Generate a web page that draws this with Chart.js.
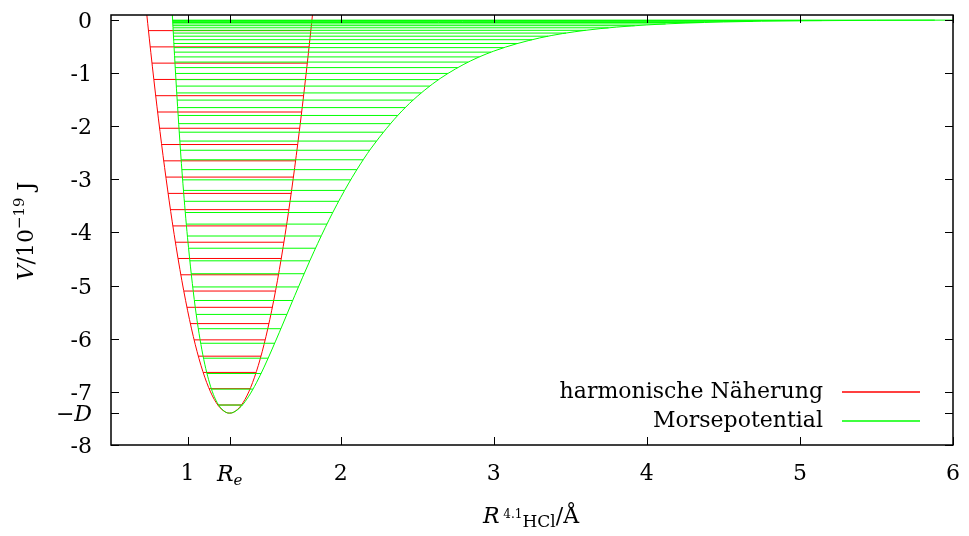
<!DOCTYPE html>
<html>
<head>
<meta charset="utf-8">
<script src="https://cdn.jsdelivr.net/npm/chart.js@4.4.0/dist/chart.umd.min.js"></script>
<style>
  html, body { margin: 0; padding: 0; background: #fff; }
</style>
</head>
<body>
<canvas id="potentielChart" width="969" height="536"></canvas>
<script>
// Potentiel de Morse (HCl) et approximation harmonique, unités : Å et 1e-19 J
const xRe = 1.275;
const yD = -7.4;
const xTicks = [1, 1.275, 2, 3, 4, 5, 6];
const yTicks = [0, -1, -2, -3, -4, -5, -6, -7, -7.4, -8];

// Courbe harmonique
const harmoR = [0.70, 0.74, 0.78, 0.82, 0.86, 0.90, 0.95, 1.00, 1.05, 1.10, 1.15, 1.20, 1.25, 1.275,
  1.30, 1.35, 1.40, 1.45, 1.50, 1.55, 1.60, 1.65, 1.69, 1.73, 1.77, 1.81, 1.85];
const harmoV = [1.067, -0.070, -1.125, -2.098, -2.989, -3.799, -4.695, -5.463, -6.104, -6.616, -7.000, -7.256, -7.384, -7.400,
  -7.384, -7.256, -7.000, -6.616, -6.104, -5.463, -4.695, -3.799, -2.989, -2.098, -1.125, -0.070, 1.067];

// Courbe de Morse
const morseR = [0.88, 0.90, 0.92, 0.95, 0.97, 1.00, 1.05, 1.10, 1.15, 1.20, 1.25, 1.275, 1.30, 1.35, 1.40, 1.45, 1.50,
  1.60, 1.70, 1.80, 1.90, 2.00, 2.10, 2.20, 2.40, 2.60, 2.80, 3.00, 3.30, 3.60, 4.00, 4.50, 5.00, 5.50, 6.00];
const morseV = [1.315, 0.135, -0.921, -2.295, -3.084, -4.098, -5.401, -6.304, -6.893, -7.234, -7.383, -7.400, -7.385, -7.275, -7.081, -6.829, -6.534,
  -5.877, -5.190, -4.524, -3.904, -3.343, -2.845, -2.411, -1.713, -1.205, -0.842, -0.586, -0.338, -0.194, -0.093, -0.037, -0.015, -0.006, -0.002];

// Niveaux d'énergie harmoniques et leurs bornes
const niveauxHarmo = [-7.247, -6.940, -6.634, -6.328, -6.021, -5.715, -5.408, -5.102, -4.796, -4.489, -4.183, -3.876,
  -3.570, -3.264, -2.957, -2.651, -2.344, -2.038, -1.732, -1.425, -1.119, -0.812, -0.506, -0.200];
const harmoGauche = [1.198, 1.141, 1.102, 1.070, 1.043, 1.018, 0.996, 0.976, 0.956, 0.938, 0.921, 0.904,
  0.888, 0.873, 0.859, 0.844, 0.831, 0.817, 0.805, 0.792, 0.780, 0.768, 0.756, 0.745];
const harmoDroite = [1.352, 1.409, 1.448, 1.480, 1.507, 1.532, 1.554, 1.575, 1.594, 1.612, 1.629, 1.646,
  1.662, 1.677, 1.692, 1.706, 1.719, 1.733, 1.746, 1.758, 1.770, 1.782, 1.794, 1.805];

// Niveaux d'énergie de Morse et leurs bornes
const niveauxMorse = [-7.248, -6.948, -6.654, -6.366, -6.085, -5.811, -5.542, -5.280, -5.025, -4.776,
  -4.533, -4.296, -4.066, -3.842, -3.624, -3.413, -3.208, -3.009, -2.817, -2.631,
  -2.452, -2.279, -2.112, -1.951, -1.797, -1.649, -1.508, -1.373, -1.244, -1.122,
  -1.006, -0.896, -0.792, -0.695, -0.605, -0.520, -0.442, -0.371, -0.305, -0.246,
  -0.194, -0.147, -0.107, -0.074, -0.047, -0.026, -0.011, -0.003];
const morseGauche = [1.203, 1.156, 1.127, 1.104, 1.086, 1.070, 1.057, 1.045, 1.034, 1.024,
  1.015, 1.007, 0.999, 0.992, 0.985, 0.979, 0.973, 0.968, 0.963, 0.958,
  0.954, 0.950, 0.946, 0.942, 0.939, 0.935, 0.932, 0.929, 0.927, 0.924,
  0.922, 0.919, 0.917, 0.916, 0.914, 0.912, 0.911, 0.909, 0.908, 0.907,
  0.906, 0.905, 0.904, 0.904, 0.903, 0.903, 0.903, 0.902];
const morseDroite = [1.358, 1.428, 1.480, 1.527, 1.569, 1.610, 1.649, 1.687, 1.724, 1.762,
  1.799, 1.836, 1.873, 1.911, 1.948, 1.987, 2.026, 2.066, 2.106, 2.148,
  2.190, 2.234, 2.278, 2.324, 2.372, 2.422, 2.473, 2.526, 2.582, 2.640,
  2.701, 2.765, 2.833, 2.906, 2.982, 3.065, 3.154, 3.250, 3.355, 3.472,
  3.602, 3.750, 3.921, 4.123, 4.371, 4.693, 5.143, 5.881];

const POLICE = '"DejaVu Serif", serif';
const ROUGE = '#ff0000';
const VERT = '#00ff00';

// Fonction pour transformer deux tableaux en points {x, y}
function points(xs, ys) {
  return xs.map((v, i) => ({ x: v, y: ys[i] }));
}

// Fonction pour créer les segments horizontaux (séparés par un point nul)
function segments(gauche, droite, niveaux) {
  const pts = [];
  niveaux.forEach((e, i) => {
    pts.push({ x: gauche[i], y: e });
    pts.push({ x: droite[i], y: e });
    pts.push({ x: droite[i], y: null });
  });
  return pts;
}

// Fonction pour écrire un texte composé (italique, exposant, indice)
function ecrireMorceaux(ctx, morceaux, x0, y0) {
  let x = x0;
  morceaux.forEach(m => {
    ctx.font = `${m.f} ${POLICE}`;
    ctx.fillText(m.t, x, y0 + (m.dy || 0));
    x += ctx.measureText(m.t).width;
  });
}
function largeurMorceaux(ctx, morceaux) {
  return morceaux.reduce((s, m) => {
    ctx.font = `${m.f} ${POLICE}`;
    return s + ctx.measureText(m.t).width;
  }, 0);
}

const decor = {
  id: 'decor',
  afterDraw(chart) {
    const { ctx, chartArea: a } = chart;
    const sx = chart.scales.x, sy = chart.scales.y;
    ctx.save();

    // cadre
    ctx.strokeStyle = '#000';
    ctx.lineWidth = 1.5;
    ctx.strokeRect(a.left, a.top, a.right - a.left, a.bottom - a.top);

    // graduations vers l'intérieur
    ctx.lineWidth = 1;
    ctx.beginPath();
    sx.ticks.forEach(t => {
      const px = Math.round(sx.getPixelForValue(t.value)) + 0.5;
      ctx.moveTo(px, a.bottom); ctx.lineTo(px, a.bottom - 8);
      ctx.moveTo(px, a.top); ctx.lineTo(px, a.top + 8);
    });
    sy.ticks.forEach(t => {
      const py = Math.round(sy.getPixelForValue(t.value)) + 0.5;
      ctx.moveTo(a.left, py); ctx.lineTo(a.left + 8, py);
      ctx.moveTo(a.right, py); ctx.lineTo(a.right - 8, py);
    });
    ctx.stroke();

    ctx.fillStyle = '#000';
    ctx.textBaseline = 'alphabetic';

    // étiquettes des graduations
    ctx.font = `22px ${POLICE}`;
    ctx.textAlign = 'right';
    sy.ticks.forEach(t => {
      if (t.value === yD) return;
      ctx.fillText(String(t.value), a.left - 19, sy.getPixelForValue(t.value) + 8);
    });
    ctx.textAlign = 'center';
    sx.ticks.forEach(t => {
      if (t.value === xRe) return;
      ctx.fillText(String(t.value), sx.getPixelForValue(t.value), 480);
    });
    ctx.textAlign = 'left';

    // étiquette −D
    const labD = [{ t: '\u2212', f: '22px' }, { t: 'D', f: 'italic 22px' }];
    const pyD = sy.getPixelForValue(yD);
    ecrireMorceaux(ctx, labD, a.left - 19 - largeurMorceaux(ctx, labD), pyD + 8);

    // étiquette R_e
    const labRe = [{ t: 'R', f: 'italic 22px' }, { t: 'e', f: 'italic 15px', dy: 4 }];
    const pxRe = sx.getPixelForValue(xRe);
    ecrireMorceaux(ctx, labRe, pxRe - largeurMorceaux(ctx, labRe) / 2, 481);

    // titre de l'axe x
    const titreX = [
      { t: 'R', f: 'italic 22px' },
      { t: ' 4.1', f: '12px', dy: -5 },
      { t: 'HCl', f: '17px', dy: 4 },
      { t: '/\u00c5', f: '22px' }
    ];
    ecrireMorceaux(ctx, titreX, 531 - largeurMorceaux(ctx, titreX) / 2, 523);

    // titre de l'axe y (tourné)
    const titreY = [
      { t: 'V', f: 'italic 22px' },
      { t: '/10', f: '22px' },
      { t: '\u221219', f: '15px', dy: -9 },
      { t: ' J', f: '22px' }
    ];
    ctx.save();
    ctx.translate(33, 231);
    ctx.rotate(-Math.PI / 2);
    ecrireMorceaux(ctx, titreY, -largeurMorceaux(ctx, titreY) / 2, 0);
    ctx.restore();

    // légende
    const entrees = chart.data.datasets.filter(d => d.label);
    entrees.forEach((d, i) => {
      const ly = a.bottom - 53 + i * 29;
      ctx.font = `22px ${POLICE}`;
      ctx.textAlign = 'right';
      ctx.textBaseline = 'middle';
      ctx.fillStyle = '#000';
      ctx.fillText(d.label, a.right - 130, ly);
      ctx.strokeStyle = d.borderColor;
      ctx.lineWidth = 1.5;
      ctx.beginPath();
      ctx.moveTo(a.right - 111, Math.round(ly));
      ctx.lineTo(a.right - 33, Math.round(ly));
      ctx.stroke();
    });

    ctx.restore();
  }
};

Chart.defaults.font.family = POLICE;
Chart.defaults.font.size = 22;
Chart.defaults.color = '#000';

new Chart(document.getElementById('potentielChart'), {
  type: 'scatter',
  data: {
    datasets: [
      {
        label: 'harmonische N\u00e4herung',
        data: points(harmoR, harmoV),
        showLine: true,
        borderColor: ROUGE,
        borderWidth: 1,
        pointRadius: 0,
        cubicInterpolationMode: 'monotone',
        order: 3
      },
      {
        label: '',
        data: segments(harmoGauche, harmoDroite, niveauxHarmo),
        showLine: true,
        spanGaps: false,
        borderColor: ROUGE,
        borderWidth: 1,
        pointRadius: 0,
        tension: 0,
        order: 2
      },
      {
        label: 'Morsepotential',
        data: points(morseR, morseV),
        showLine: true,
        borderColor: VERT,
        borderWidth: 1,
        pointRadius: 0,
        cubicInterpolationMode: 'monotone',
        order: 0
      },
      {
        label: '',
        data: segments(morseGauche, morseDroite, niveauxMorse),
        showLine: true,
        spanGaps: false,
        borderColor: VERT,
        borderWidth: 1,
        pointRadius: 0,
        tension: 0,
        order: 1
      }
    ]
  },
  options: {
    responsive: false,
    animation: false,
    layout: { padding: { top: 15, right: 16, left: 0, bottom: 0 } },
    plugins: {
      legend: { display: false },
      tooltip: { enabled: false }
    },
    scales: {
      x: {
        type: 'linear',
        min: 0.5,
        max: 6,
        grid: { display: false },
        border: { display: false },
        afterBuildTicks: s => { s.ticks = xTicks.map(v => ({ value: v })); },
        afterFit: s => { s.height = 91; },
        ticks: { display: false }
      },
      y: {
        type: 'linear',
        min: -8,
        max: 0.094,
        grid: { display: false },
        border: { display: false },
        afterBuildTicks: s => { s.ticks = yTicks.map(v => ({ value: v })); },
        afterFit: s => { s.width = 111; },
        ticks: { display: false }
      }
    }
  },
  plugins: [decor]
});
</script>
</body>
</html>
